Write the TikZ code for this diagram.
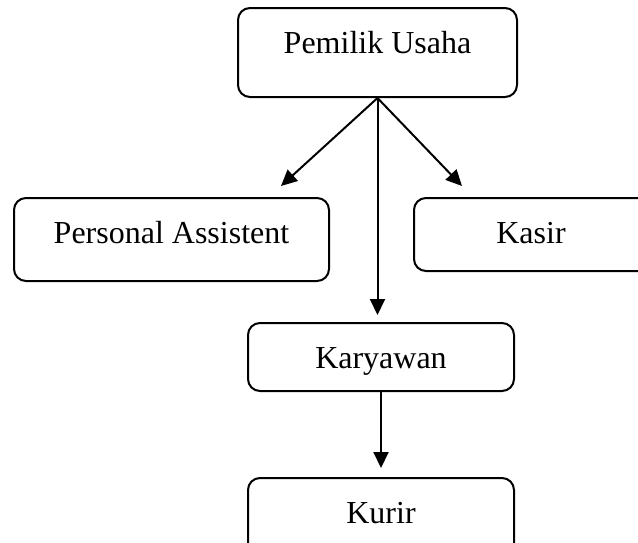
\documentclass[tikz,border=0pt]{standalone}
\usepackage{fontspec}
\setmainfont{Liberation Serif}
\usetikzlibrary{arrows.meta}

\begin{document}
\begin{tikzpicture}[x=1pt,y=-1pt,
    unit/.style={draw, line width=2pt, rounded corners=12pt, anchor=north west,
      inner xsep=0pt, inner ysep=0pt, text height=45pt,
      font=\fontsize{32}{38}\selectfont},
    link/.style={line width=2pt, -{Triangle[length=16pt,width=15pt]}}]
  \clip (0,0) rectangle (638,542);

  \node [unit, minimum width=279pt, text depth=44pt] (owner) at (237,7) {Pemilik Usaha};
  \node [unit, minimum width=315pt, text depth=38pt] (assistant) at (13,197) {Personal Assistent};
  \node [unit, minimum width=250pt, text depth=28pt] (cashier) at (413,197) {Kasir\hspace*{16pt}};
  \node [unit, minimum width=266pt, text depth=23pt] (staff) at (247,322) {Karyawan};
  \node [unit, minimum width=266pt, text depth=40pt] (courier) at (247,477) {Kurir};

  \coordinate (assistantTip) at (281,186);
  \coordinate (cashierTip) at (462,186);

  \draw [link] (owner.south) -- (assistantTip);
  \draw [link] (owner.south) -- (cashierTip);
  \draw [link, shorten >=7pt] (owner.south) -- (owner.south |- staff.north);
  \draw [link, shorten >=9pt] (staff.south) -- (courier.north);
\end{tikzpicture}
\end{document}
